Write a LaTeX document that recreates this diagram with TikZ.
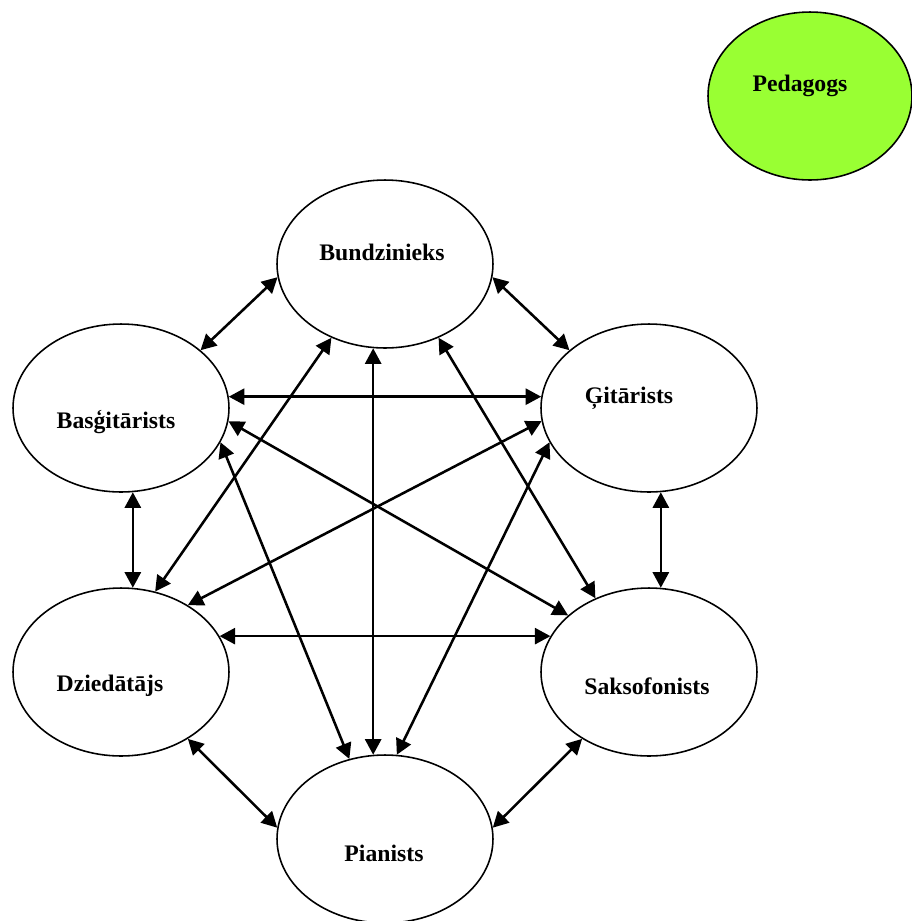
\documentclass[tikz,border=0pt]{standalone}
\usepackage{fontspec}
\setmainfont{Liberation Serif}
\usetikzlibrary{shapes.geometric,arrows.meta}
\definecolor{limegreen}{HTML}{99FF33}

\begin{document}
\begin{tikzpicture}[
    x=0.02cm, y=-0.02cm,
    role/.style={draw, ellipse, line width=0.9pt, inner sep=0pt,
                 minimum width=4.32cm, minimum height=3.36cm},
    lbl/.style={font=\bfseries\fontsize{13.5}{16}\selectfont},
    arr/.style={arrows={Triangle[length=0.31cm, width=0.32cm]-Triangle[length=0.31cm, width=0.32cm]}, line width=1.45pt}
]
\useasboundingbox (0,0) rectangle (912,921);

\node[role, fill=limegreen, minimum width=4.08cm,
      label={[lbl, shift={(-10,-10)}]center:Pedagogs}] (ped) at (810,96) {};

\node[role, label={[lbl, shift={(-3,-12)}]center:Bundzinieks}] (bund) at (385,264) {};
\node[role, label={[lbl, shift={(-5,14)}]center:Basģitārists}] (basg) at (121,408) {};
\node[role, label={[lbl, shift={(-20,-10)}]center:Ģitārists}] (git) at (649,408) {};
\node[role, label={[lbl, shift={(-11,14)}]center:Dziedātājs}] (dzied) at (121,672) {};
\node[role, label={[lbl, shift={(-2,14)}]center:Saksofonists}] (sakso) at (649,672) {};
\node[role, label={[lbl, shift={(-1,14)}]center:Pianists}] (pian) at (385,839) {};

\draw[arr] (bund.187) -- (basg.36);
\draw[arr] (bund.353) -- (git.144);
\draw[arr] (bund.234) -- (dzied.67);
\draw[arr] (bund.262) -- (pian.98);
\draw[arr] (bund.306) -- (sakso.126);

\draw[arr] (basg.6) -- (git.174);
\draw[arr] (basg.353) -- (sakso.145);
\draw[arr] (basg.341) -- (pian.114);
\draw[arr] (basg.278) -- (dzied.82);

\draw[arr] (git.187) -- (dzied.45);
\draw[arr] (git.199) -- (pian.82);
\draw[arr] (git.278) -- (sakso.82);

\draw[arr] (dzied.20) -- (sakso.160);
\draw[arr] (dzied.315) -- (pian.174);
\draw[arr] (sakso.225) -- (pian.6);
\end{tikzpicture}
\end{document}
